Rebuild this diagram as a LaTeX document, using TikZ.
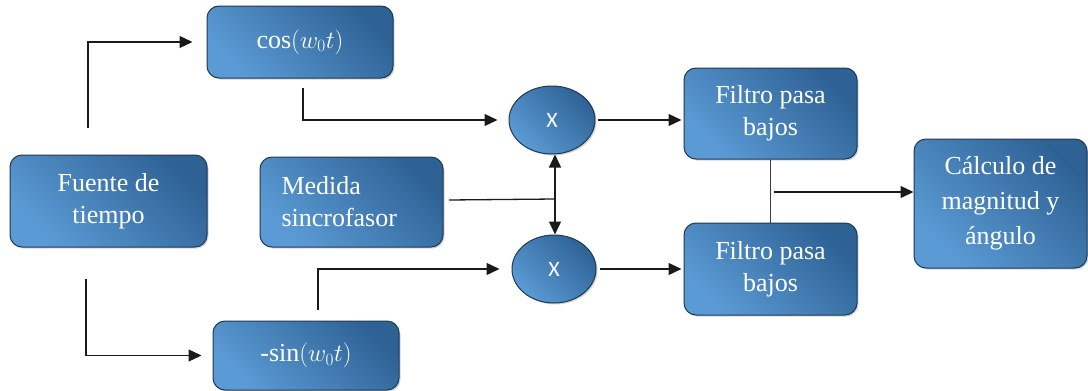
\documentclass[tikz,border=0pt]{standalone}
\usepackage{fontspec}
\setmainfont{Liberation Serif}
\newfontfamily\xfont{Carlito}
\usetikzlibrary{shadows,arrows.meta,calc,shapes.geometric}
\definecolor{boxdark}{HTML}{2E6295}
\definecolor{boxlight}{HTML}{5B9BD5}
\definecolor{boxedge}{HTML}{1E3A55}
\definecolor{wire}{HTML}{1A1A1A}
\begin{document}
\begin{tikzpicture}[x=1pt,y=-1pt,
  blk/.style={draw=boxedge, line width=1pt, rounded corners=12pt,
    top color=boxdark, bottom color=boxlight, shading angle=-45,
    text=white, font=\fontsize{26}{32}\selectfont, align=center, inner sep=0pt,
    drop shadow={shadow xshift=1.5pt, shadow yshift=-1.5pt, opacity=0.35}},
  mult/.style={blk, ellipse, rounded corners=0pt, font=\xfont\fontsize{22}{24}\selectfont},
  wireline/.style={draw=wire, line width=1.3pt},
  arr/.style={wireline, -{Triangle[length=13pt,width=12pt]}}
]
\useasboundingbox (0,0) rectangle (1088,391);

% blocks
\node[blk, minimum width=186pt, minimum height=72pt] (cos) at (300,42) {cos$(w_0t)$};
\node[blk, minimum width=197pt, minimum height=92pt] (fuente) at (108.5,201) {Fuente de\\tiempo};
\node[blk, align=left, text width=140pt, inner xsep=21.5pt, minimum height=90pt] (medida) at (351.5,202) {Medida\\sincrofasor};
\node[blk, minimum width=186pt, minimum height=69pt] (sin) at (306,355.5) {-sin$(w_0t)$};
\node[mult, minimum width=86pt, minimum height=68pt] (x1) at (552,120) {X};
\node[mult, minimum width=84pt, minimum height=68pt] (x2) at (554,269) {X};
\node[blk, minimum width=173pt, minimum height=91pt] (f1) at (770.5,113.5) {Filtro pasa\\bajos};
\node[blk, minimum width=173pt, minimum height=92pt] (f2) at (770.5,269) {Filtro pasa\\bajos};
\node[blk, font=\fontsize{26}{35}\selectfont, minimum width=173pt, minimum height=129pt] (calc) at (1000.5,203.5) {Cálculo de\\magnitud y\\ángulo};

% free ends of the connectors
\coordinate (src1) at (88,128);
\coordinate (src2) at (86,279);
\coordinate (cosout) at (303,88);
\coordinate (sinout) at (318,310);
\coordinate (medout) at (449,200);
\coordinate (join) at (555,199);
\coordinate (mix) at (774,192);

% connectors
\draw[arr, shorten >=14pt] (src1) |- (cos.west);
\draw[arr, shorten >=11pt] (src2) |- (sin.west);
\draw[arr, shorten >=11pt] (cosout) |- (x1.west);
\draw[arr, shorten >=12pt] (sinout) |- (x2.west);
\draw[wireline] (medout) -- (join);
\draw[arr] (join) -- (join |- x1.south);
\draw[arr] (join) -- (join |- x2.north);
\draw[arr, shorten <=2pt, shorten >=2pt] (x1.east) -- (x1.east -| f1.west);
\draw[arr, shorten <=3pt, shorten >=2pt] (x2.east) -- (x2.east -| f2.west);
\draw[wireline, draw=wire!85] (f1.south) -- (f2.north);
\draw[arr] (mix) -- (mix -| calc.west);
\end{tikzpicture}
\end{document}
